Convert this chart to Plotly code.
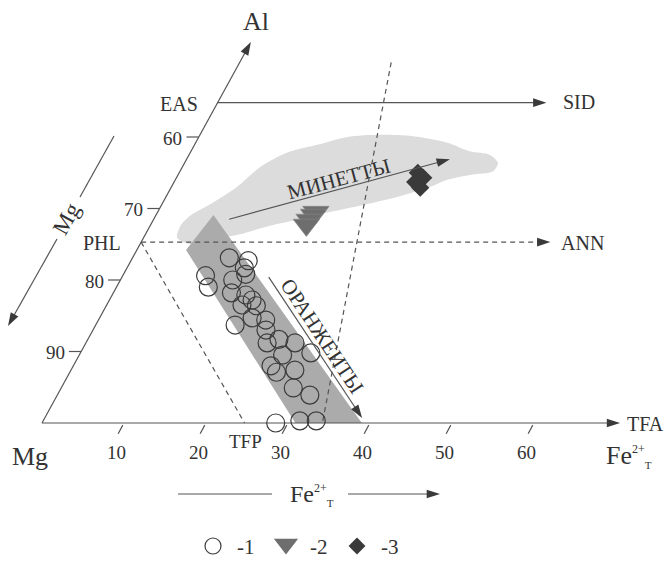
import plotly.graph_objects as go

# ---------------- data (ternary coordinates: Fe2+T %, Al %) ----------------
circle_fe = [11.8, 14.3, 14.3, 10.1, 11.2, 13.7, 14.9, 14.4, 16.3, 17.4, 16.5, 18.3, 18.6, 17.0, 20.4,
             21.1, 23.3, 22.1, 25.5, 28.1, 24.8, 24.1, 25.2, 27.3, 28.3, 30.8, 28.5, 31.3, 33.3]
circle_al = [23.1, 22.7, 21.7, 20.6, 19.0, 20.0, 20.8, 18.2, 17.9, 17.2, 16.5, 16.4, 14.7, 13.7, 14.4,
             13.0, 11.7, 11.2, 11.2, 9.8, 9.5, 8.0, 7.1, 7.4, 4.9, 3.9, 0.0, 0.3, 0.3]
tri_fe = [19.3, 19.2, 19.0, 19.0]
tri_al = [29.5, 29.1, 28.4, 27.7]
dia_fe = [29.1, 30.1, 29.4, 30.4]
dia_al = [35.0, 34.3, 33.7, 32.9]

fe_ticks = [10, 20, 30, 40, 50, 60]
mg_ticks = [90, 80, 70, 60]

# fields
minette_fe = [4.1, 3.7, 4.2, 5.9, 8.0, 9.5, 11.8, 15.0, 18.1, 22.0, 26.1, 30.7, 34.0, 36.7, 38.2,
              38.2, 35.6, 33.1, 31.5, 28.2, 24.6, 21.0, 17.8, 14.6, 11.5, 8.3, 6.1, 4.1]
minette_al = [25.9, 27.6, 29.0, 30.6, 33.0, 35.8, 37.8, 38.9, 40.0, 40.3, 40.1, 39.2, 38.0, 37.5, 36.4,
              35.2, 34.7, 34.0, 33.0, 31.6, 30.5, 29.5, 28.5, 27.6, 26.4, 25.6, 25.0, 25.9]
orang_fe = [6.0, 7.0, 39.0, 30.9, 6.0]
orang_al = [24.2, 29.1, 0.0, 0.0, 24.2]

# reference end members
PHL_AL, EAS_AL, TFP_FE = 25.3, 44.8, 24.7
AL_MAX, FE_MAX = 53.3, 70.5
SID_FE, ANN_FE = 40.1, 49.9
FEMG_LINE = ([34.1, 18.3], [0.3, 51.0])
MIN_TREND = ([9.2, 32.1], [28.5, 36.9])
ORA_TREND = ([17.9, 38.7], [20.4, 0.7])

# ---------------- geometry ----------------
W, H = 666, 575
K = 0.478            # horizontal shift of the oblique Al axis per Al unit
X0, Y0, SX, SY = 42, 423, 8.2, 7.15


def sk(fe, al):
    return [f + K * a for f, a in zip(fe, al)]


def pp(px, py):
    return px / W, 1 - py / H


LC = '#555555'
AC = '#3a3a3a'
TC = '#333333'
FONT = 'Liberation Serif'
DASH = '5px,4px'

fig = go.Figure()

# fields
fig.add_trace(go.Scatter(x=sk(minette_fe, minette_al), y=minette_al, mode='lines', fill='toself',
                         line=dict(color='#dcdcdc', width=0, shape='spline', smoothing=0.8),
                         fillcolor='#dcdcdc', hoverinfo='skip'))
fig.add_trace(go.Scatter(x=sk(orang_fe, orang_al), y=orang_al, mode='lines', fill='toself',
                         line=dict(color='#ababab', width=0), fillcolor='#ababab', hoverinfo='skip'))


def line(fe, al, dash=None):
    fig.add_trace(go.Scatter(x=sk(fe, al), y=al, mode='lines',
                             line=dict(color=LC, width=1.2, dash=dash), hoverinfo='skip'))


def arrow(xs, ys, dash=None, xaxis='x', yaxis='y'):
    fig.add_trace(go.Scatter(x=xs, y=ys, xaxis=xaxis, yaxis=yaxis, mode='lines+markers',
                             line=dict(color=LC, width=1.2, dash=dash),
                             marker=dict(symbol='arrow', size=14, angleref='previous', color=AC,
                                         line=dict(width=0)),
                             hoverinfo='skip'))


def darrow(fe, al, dash=None):
    arrow(sk(fe, al), al, dash)


# guide lines
darrow([0, ANN_FE], [PHL_AL, PHL_AL], DASH)        # PHL -> ANN
line([0, TFP_FE], [PHL_AL, 0], DASH)               # PHL - TFP
line(*FEMG_LINE, dash=DASH)
darrow([0, 0], [0, AL_MAX])                        # Al axis
darrow([0, FE_MAX], [0, 0])                        # Fe axis
darrow([0, SID_FE], [EAS_AL, EAS_AL])              # EAS -> SID

# ticks
tx, ty = [], []
for t in fe_ticks:
    tx += sk([t, t], [-0.3, -1.5]) + [None]
    ty += [-0.3, -1.5, None]
for m in mg_ticks:
    a = 100 - m
    tx += sk([-1.5, 0], [a, a]) + [None]
    ty += [a, a, None]
fig.add_trace(go.Scatter(x=tx, y=ty, mode='lines', line=dict(color=LC, width=1.2), hoverinfo='skip'))

# data points
fig.add_trace(go.Scatter(x=sk(circle_fe, circle_al), y=circle_al, mode='markers',
                         marker=dict(symbol='circle-open', size=18, color='#3c3c3c', line=dict(width=1.2))))
fig.add_trace(go.Scatter(x=sk(tri_fe, tri_al), y=tri_al, mode='markers',
                         marker=dict(symbol='triangle-down', size=23, color='#6e6e6e',
                                     line=dict(width=0.6, color='#888888'))))
fig.add_trace(go.Scatter(x=sk(dia_fe, dia_al), y=dia_al, mode='markers',
                         marker=dict(symbol='diamond', size=14, color='#3a3a3a', line=dict(width=0))))

# trend arrows
darrow(*MIN_TREND)
darrow(*ORA_TREND)

ann = []


def label(px, py, text, size=17, angle=0, xanchor='center'):
    x, y = pp(px, py)
    ann.append(dict(x=x, y=y, xref='paper', yref='paper', text=text, showarrow=False, textangle=angle,
                    xanchor=xanchor, yanchor='middle', font=dict(family=FONT, size=size, color=TC)))


# tick labels
for t in fe_ticks:
    xb, = sk([t], [-1.5])
    ann.append(dict(x=xb, y=-1.5, xref='x', yref='y', text=str(t), showarrow=False, xshift=-2, yshift=-19,
                    font=dict(family=FONT, size=19, color=TC)))
for m in mg_ticks:
    a = 100 - m
    xl, = sk([-1.5], [a])
    ann.append(dict(x=xl, y=a, xref='x', yref='y', text=str(m), showarrow=False, xanchor='right',
                    xshift=-2, yshift=-1, font=dict(family=FONT, size=19, color=TC)))

FE_LABEL = 'Fe<sup><span style="font-size:12px">2+</span></sup><sub><span style="font-size:11px">T</span></sub>'

label(256, 22, 'Al', 26)
label(179, 104, 'EAS', 20)
label(102, 243, 'PHL', 20)
label(579, 102, 'SID', 20)
label(582, 243, 'ANN', 20)
label(645, 424, 'TFA', 20)
label(245, 441, 'TFP', 19)
label(30, 456, 'Mg', 26)
label(604, 456, FE_LABEL, 26, xanchor='left')
label(339, 179, 'МИНЕТТЫ', 21, angle=-15)
label(322, 336, 'ОРАНЖЕИТЫ', 21, angle=56.6)
label(67, 219, 'Mg', 23, angle=-60.8)
label(288, 495, FE_LABEL, 24, xanchor='left')

# left Mg arrow and bottom Fe arrow (page decorations, pixel overlay axes)
fig.add_trace(go.Scatter(x=[114, 80], y=[136, 197], xaxis='x2', yaxis='y2', mode='lines',
                         line=dict(color=LC, width=1.2), hoverinfo='skip'))
arrow([57, 8], [239, 326], xaxis='x2', yaxis='y2')
fig.add_trace(go.Scatter(x=[178, 272], y=[494, 494], xaxis='x2', yaxis='y2', mode='lines',
                         line=dict(color=LC, width=1.2), hoverinfo='skip'))
arrow([348, 440], [494, 494], xaxis='x2', yaxis='y2')

# legend
leg_sym = ['circle-open', 'triangle-down', 'diamond']
leg_lab = ['-1', '-2', '-3']
leg_px = [213, 286, 357]
leg_py = [546, 544, 546]
leg_size = [16, 21, 13]
leg_col = ['#3c3c3c', '#6e6e6e', '#3a3a3a']
for s, px, py, sz, c in zip(leg_sym, leg_px, leg_py, leg_size, leg_col):
    fig.add_trace(go.Scatter(x=[px], y=[py], xaxis='x2', yaxis='y2', mode='markers',
                             marker=dict(symbol=s, size=sz, color=c, line=dict(width=1.2 if 'open' in s else 0))))
for lab, px in zip(leg_lab, leg_px):
    label(px + 33, 547, lab, 21)

fig.update_layout(
    width=W, height=H, margin=dict(l=0, r=0, t=0, b=0),
    paper_bgcolor='white', plot_bgcolor='white', showlegend=False,
    xaxis=dict(range=[-X0 / SX, (W - X0) / SX], visible=False, fixedrange=True),
    yaxis=dict(range=[(Y0 - H) / SY, Y0 / SY], visible=False, fixedrange=True),
    xaxis2=dict(range=[0, W], visible=False, overlaying='x', anchor='y2'),
    yaxis2=dict(range=[H, 0], visible=False, overlaying='y', anchor='x2'),
    annotations=ann,
)

fig.write_html('out.html')
